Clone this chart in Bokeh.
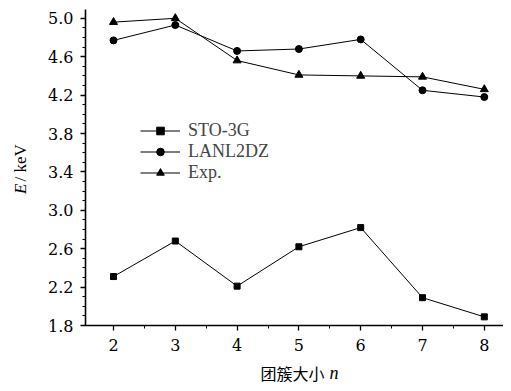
import numpy as np
from bokeh.plotting import figure
from bokeh.models import (FixedTicker, PrintfTickFormatter, Label, Legend, LegendItem,
                          Range1d)
from bokeh.embed import file_html
from bokeh.resources import INLINE

# ---- data ----
n = [2, 3, 4, 5, 6, 7, 8]
sto3g = [2.31, 2.68, 2.21, 2.62, 2.82, 2.09, 1.89]
lanl2dz = [4.77, 4.93, 4.66, 4.68, 4.78, 4.25, 4.18]
exp = [4.96, 5.00, 4.56, 4.41, 4.40, 4.39, 4.26]
y_ticks = [1.8, 2.2, 2.6, 3.0, 3.4, 3.8, 4.2, 4.6, 5.0]
x_ticks = [2, 3, 4, 5, 6, 7, 8]
series_names = ["STO-3G", "LANL2DZ", "Exp."]

SERIF = "DejaVu Serif"
W, H = 503, 383
XS, YS = 61.8, 96.0             # pixels per data unit
AX_X, AX_Y = 85, 325            # canvas position of the axes (left / bottom)
X0 = x_ticks[0] - (113) / XS    # canvas x=0
X1 = X0 + W / XS
Y0 = y_ticks[0] - (H - AX_Y) / YS
Y1 = Y0 + H / YS
XA = X0 + AX_X / XS             # data x of the y axis
YTOP = Y0 + (H - 9) / YS        # data y of the top of the y axis


def dx(px):
    return X0 + px / XS


def dy(py):
    return Y0 + (H - py) / YS


p = figure(width=W, height=H, output_backend="svg", toolbar_location=None,
           x_range=Range1d(X0, X1), y_range=Range1d(Y0, Y1),
           min_border_left=0, min_border_right=0, min_border_top=0, min_border_bottom=0)
p.outline_line_color = None
p.grid.visible = False
p.background_fill_color = "white"
p.border_fill_color = "white"

p.line(n, sto3g, line_color="black", line_width=1)
p.scatter(n, sto3g, marker="square", size=6, color="black")
p.line(n, lanl2dz, line_color="black", line_width=1)
p.scatter(n, lanl2dz, marker="circle", size=7, color="black")
p.line(n, exp, line_color="black", line_width=1)
p.scatter(n, exp, marker="triangle", size=8, color="black")

# legend proxies (NaN, never drawn in the plot) with smaller markers
nan = [float("nan")]
l1 = p.line(nan, nan, line_color="black", line_width=1.2)
k1 = p.scatter(nan, nan, marker="square", size=4, color="black")
l2 = p.line(nan, nan, line_color="black", line_width=1.2)
k2 = p.scatter(nan, nan, marker="circle", size=5, color="black")
l3 = p.line(nan, nan, line_color="black", line_width=1.2)
k3 = p.scatter(nan, nan, marker="triangle", size=6, color="black")

# axes placed inside the full-canvas frame
yminor = list(np.round(np.arange(y_ticks[0], y_ticks[-1] + 0.001, 0.1), 2))
xminor = list(np.arange(x_ticks[0], x_ticks[-1] + 0.01, 0.5))
p.yaxis.ticker = FixedTicker(ticks=y_ticks, minor_ticks=yminor)
p.xaxis.ticker = FixedTicker(ticks=x_ticks, minor_ticks=xminor)
p.yaxis.formatter = PrintfTickFormatter(format="%.1f")
p.yaxis.fixed_location = XA
p.xaxis.fixed_location = y_ticks[0]
p.yaxis.bounds = (y_ticks[0], YTOP)
p.xaxis.bounds = (XA, X1)
for ax in (p.xaxis[0], p.yaxis[0]):
    ax.axis_line_width = 1.6
    ax.axis_line_color = "black"
    ax.major_tick_line_color = "black"
    ax.minor_tick_line_color = "black"
    ax.major_tick_line_width = 1.3
    ax.minor_tick_line_width = 1
    ax.major_tick_in = 0
    ax.major_tick_out = 5
    ax.minor_tick_in = 0
    ax.minor_tick_out = 3
    ax.major_label_text_font = SERIF
    ax.major_label_text_font_size = "16px"
    ax.major_label_text_color = "black"
p.xaxis.major_label_standoff = 8
p.yaxis.major_label_standoff = 7

# legend
legend = Legend(items=[LegendItem(label=series_names[0], renderers=[l1, k1]),
                       LegendItem(label=series_names[1], renderers=[l2, k2]),
                       LegendItem(label=series_names[2], renderers=[l3, k3])],
                location=(140, 200), border_line_color=None, background_fill_alpha=0,
                padding=0, margin=0, spacing=0, glyph_width=40, glyph_height=19,
                label_height=19, label_standoff=8,
                label_text_font="Liberation Serif", label_text_font_size="18px")
p.add_layout(legend, "center")

# axis titles (mixed italic)
p.add_layout(Label(x=dx(20), y=dy(183), text="E",
                   angle=np.pi / 2, text_align="right", text_baseline="middle",
                   text_font="Liberation Serif", text_font_style="italic",
                   text_font_size="17px", text_color="black"))
p.add_layout(Label(x=dx(20), y=dy(181), text=" / keV",
                   angle=np.pi / 2, text_align="left", text_baseline="middle",
                   text_font="Liberation Serif", text_font_size="17px", text_color="black"))
p.add_layout(Label(x=dx(324), y=dy(372), text="团簇大小",
                   text_align="right", text_baseline="middle",
                   text_font="Noto Sans CJK SC", text_font_size="16px", text_color="black"))
p.add_layout(Label(x=dx(329), y=dy(372), text="n",
                   text_align="left", text_baseline="middle",
                   text_font="Liberation Serif", text_font_style="italic",
                   text_font_size="18px", text_color="black"))

open("out.html", "w").write(file_html(p, INLINE))
